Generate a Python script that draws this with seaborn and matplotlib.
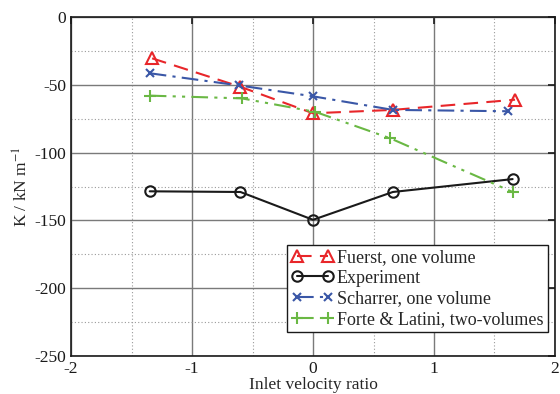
import matplotlib
matplotlib.use('Agg')
import matplotlib.pyplot as plt
import seaborn as sns

# values
fuerst_x = [-1.33, -0.60, 0.00, 0.66, 1.67]
fuerst_y = [-30.5, -51.5, -71.0, -68.5, -61.0]

exp_x = [-1.35, -0.60, 0.00, 0.66, 1.65]
exp_y = [-128.5, -129.0, -149.5, -129.0, -119.5]

scharrer_x = [-1.35, -0.61, 0.00, 0.66, 1.61]
scharrer_y = [-41.5, -50.5, -58.5, -68.5, -69.5]

forte_x = [-1.35, -0.59, 0.02, 0.64, 1.65]
forte_y = [-58.0, -60.0, -70.0, -89.5, -129.0]

sns.set_style('white')
plt.rcParams['font.family'] = ['Liberation Serif', 'DejaVu Serif']
plt.rcParams['mathtext.fontset'] = 'stix'
plt.rcParams['axes.unicode_minus'] = False

fig = plt.figure(figsize=(5.6, 3.94), dpi=100)
ax = fig.add_axes([0.127, 0.096, 0.864, 0.861])

sns.lineplot(x=fuerst_x, y=fuerst_y, ax=ax, color='#e8262a', linestyle=(0, (7, 4)),
             marker='^', markersize=8, markerfacecolor='none', markeredgecolor='#e8262a',
             markeredgewidth=1.5, linewidth=1.5, label='Fuerst, one volume')
sns.lineplot(x=exp_x, y=exp_y, ax=ax, color='#1a1a1a', linestyle='-',
             marker='o', markersize=7.5, markerfacecolor='none', markeredgecolor='#1a1a1a',
             markeredgewidth=1.5, linewidth=1.5, label='Experiment')
sns.lineplot(x=scharrer_x, y=scharrer_y, ax=ax, color='#3a57a7', linestyle=(0, (8, 3, 1.5, 3)),
             marker='x', markersize=5.5, markeredgecolor='#3a57a7',
             markeredgewidth=1.5, linewidth=1.5, label='Scharrer, one volume')
sns.lineplot(x=forte_x, y=forte_y, ax=ax, color='#6ab844', linestyle=(0, (8, 3, 1.5, 3, 1.5, 3)),
             marker='+', markersize=8, markeredgecolor='#6ab844',
             markeredgewidth=1.5, linewidth=1.5, label='Forte & Latini, two-volumes')

ax.set_xlim(-2, 2)
ax.set_ylim(-250, 0)
ax.set_xticks([-2, -1, 0, 1, 2])
ax.set_yticks([-250, -200, -150, -100, -50, 0])
ax.set_xticks([-1.5, -0.5, 0.5, 1.5], minor=True)
ax.set_yticks([-225, -175, -125, -75, -25], minor=True)
ax.grid(True, which='major', color='#7a7a7a', linestyle='-', linewidth=1.0)
ax.grid(True, which='minor', color='#9a9a9a', linestyle=(0, (1, 2)), linewidth=0.8)
ax.tick_params(which='major', direction='in', length=5, width=1.2, labelsize=12.5,
               top=True, right=True, colors='#1a1a1a')
ax.tick_params(which='minor', length=0)
for s in ax.spines.values():
    s.set_color('#1a1a1a')
    s.set_linewidth(1.2)

ax.set_xlabel('Inlet velocity ratio', fontsize=12.5, labelpad=0)
ax.set_ylabel('K / kN m$^{-1}$', fontsize=12.5, labelpad=2)

leg = ax.legend(loc='lower right', bbox_to_anchor=(0.985, 0.07), numpoints=2,
                fontsize=13, frameon=True, fancybox=False, framealpha=1,
                edgecolor='#1a1a1a', handlelength=2.3, handletextpad=0.2,
                borderpad=0.25, labelspacing=0.2, borderaxespad=0)
leg.get_frame().set_linewidth(1.0)

fig.savefig('out.png', dpi=100)
